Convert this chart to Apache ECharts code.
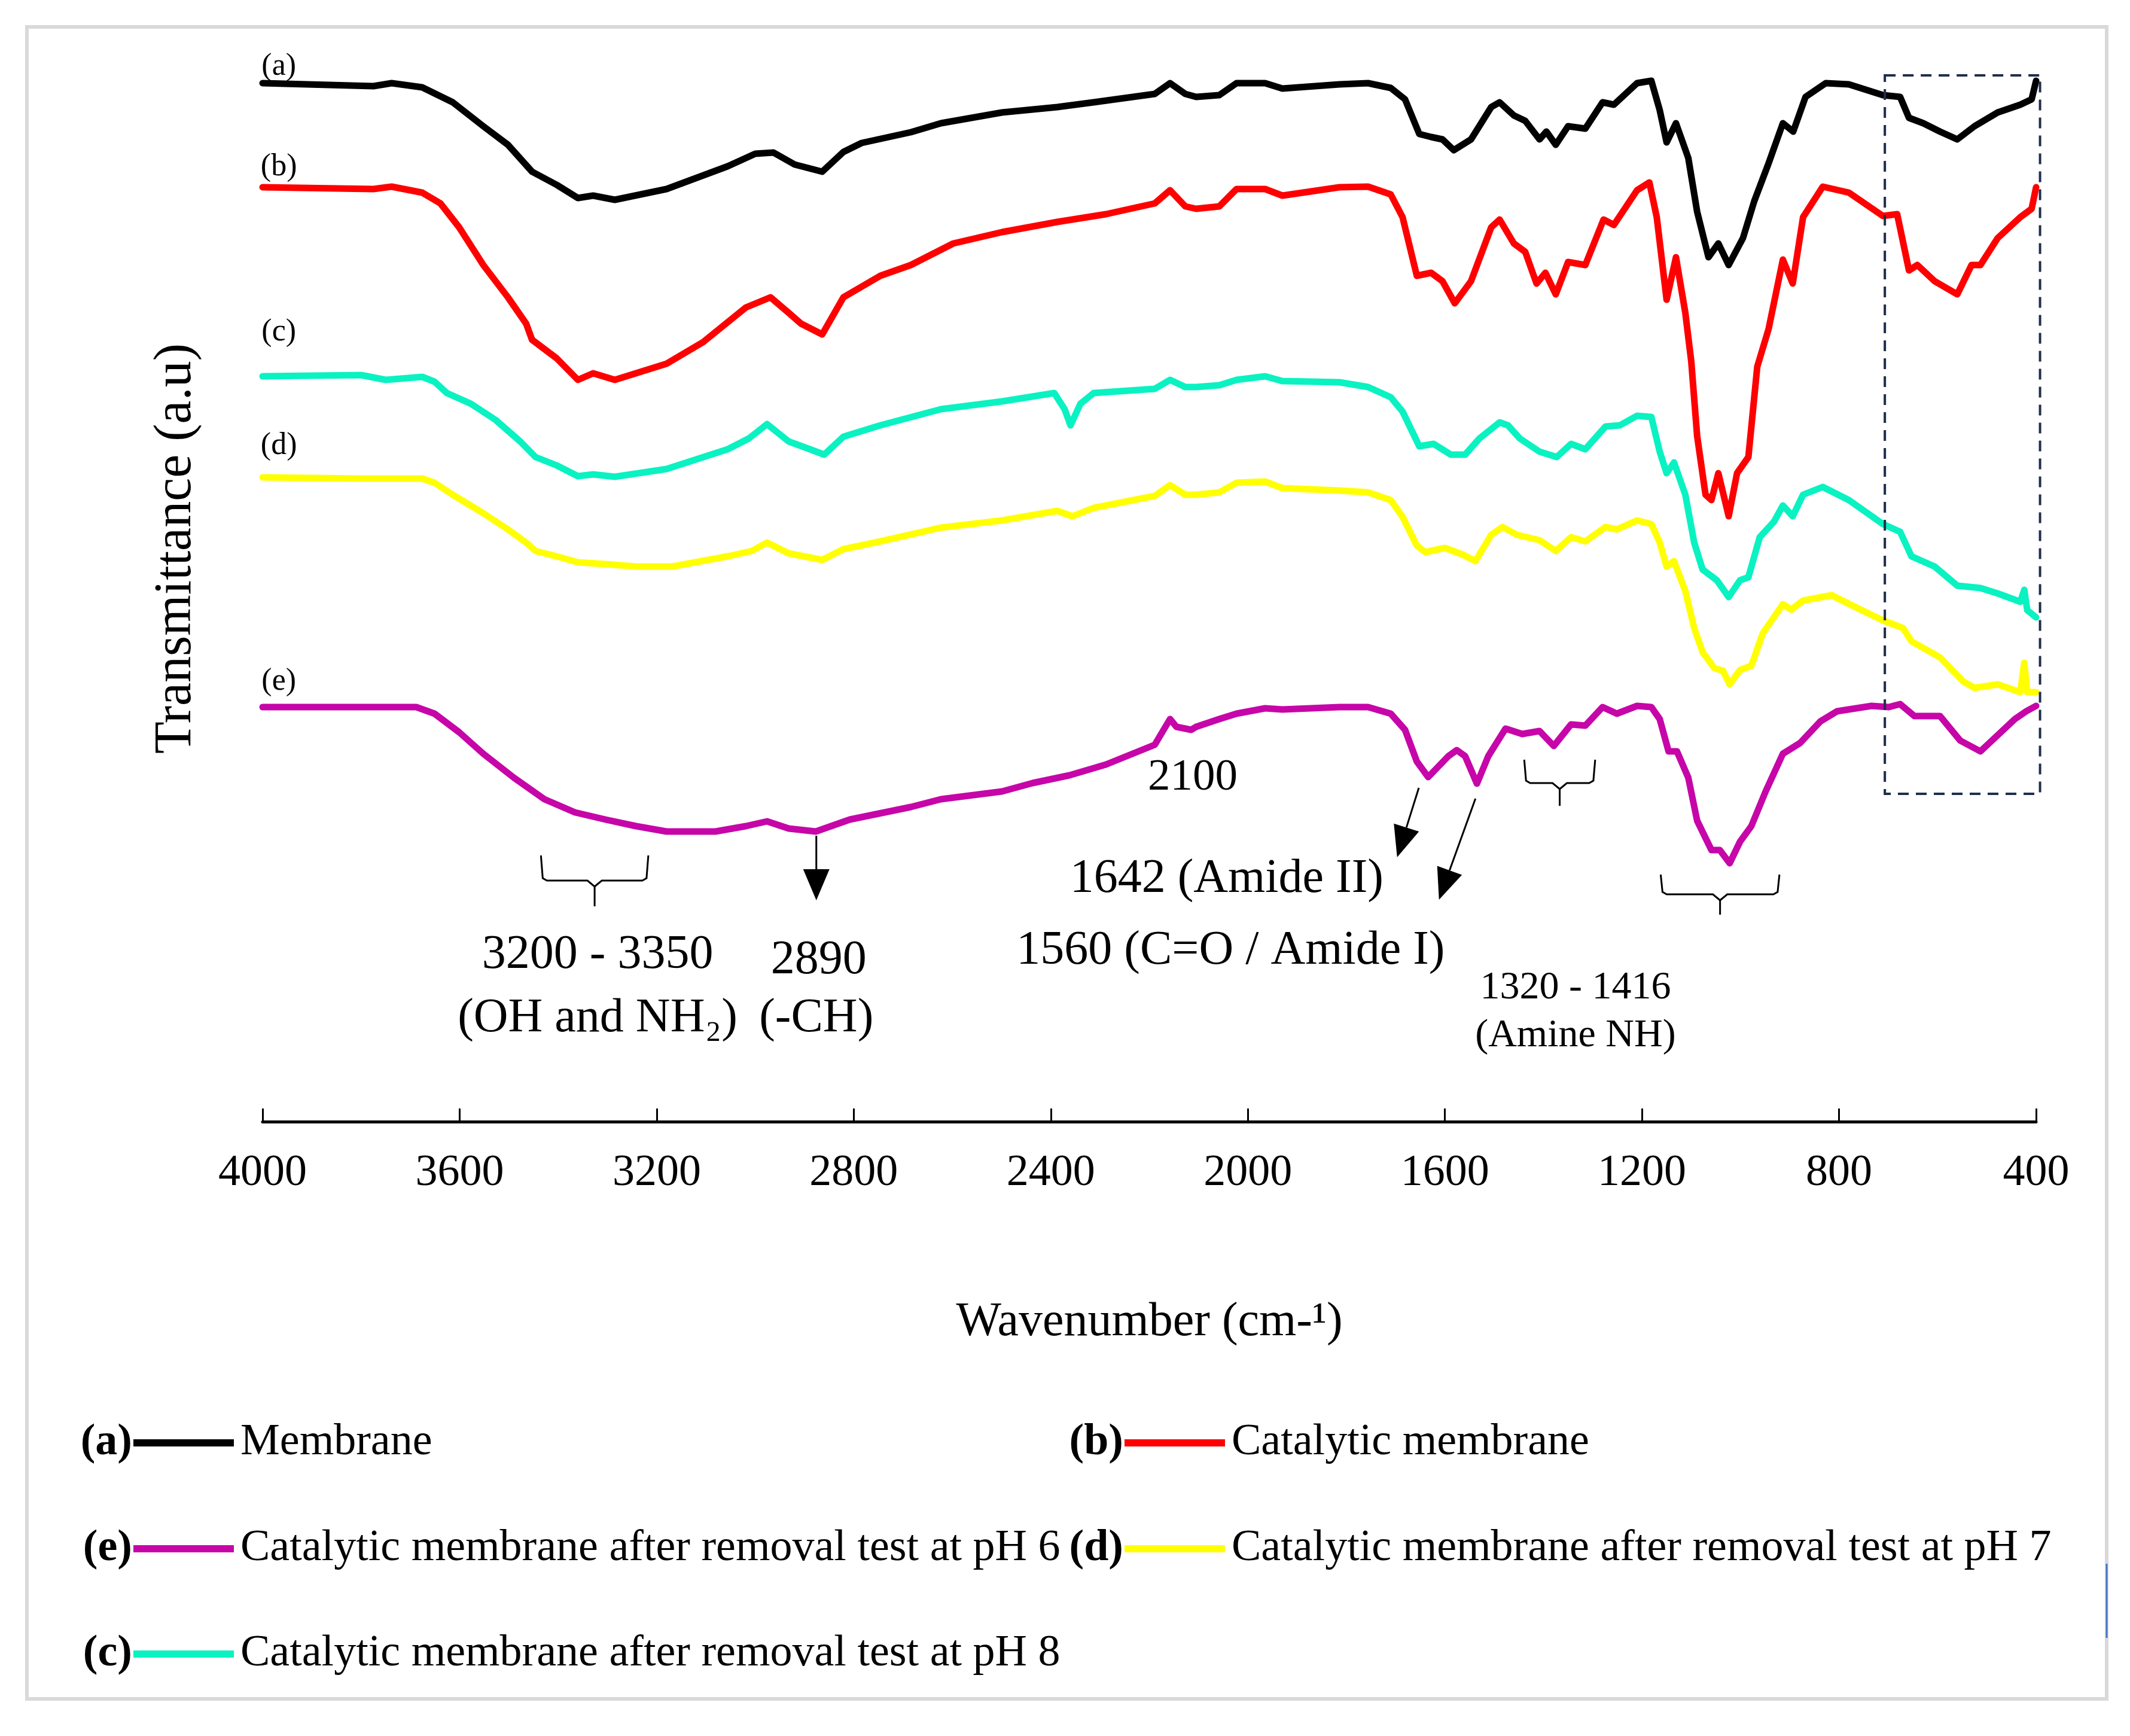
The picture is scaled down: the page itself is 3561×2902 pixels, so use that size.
<!DOCTYPE html>
<html><head><meta charset="utf-8">
<script src="https://cdn.jsdelivr.net/npm/echarts@6/dist/echarts.min.js"></script>
<style>html,body{margin:0;padding:0;background:#fff}#c{width:3561px;height:2902px}</style>
</head><body><div id="c"></div>
<script>
// [wavenumber (cm-1), transmittance (a.u., offset for stacking)]
const membrane = [[4000,1736],[3775,1731],[3738,1736],[3676,1729],[3614,1704],[3552,1664],[3502,1633],[3453,1588],[3403,1566],[3360,1544],[3329,1548],[3285,1541],[3180,1559],[3056,1597],[3000,1618],[2963,1620],[2920,1600],[2864,1588],[2821,1621],[2784,1636],[2684,1654],[2623,1669],[2499,1687],[2387,1696],[2313,1704],[2189,1718],[2158,1736],[2127,1718],[2105,1713],[2058,1716],[2023,1736],[1965,1736],[1930,1727],[1814,1734],[1756,1736],[1710,1728],[1681,1709],[1652,1651],[1628,1646],[1605,1642],[1582,1624],[1547,1642],[1506,1696],[1489,1704],[1460,1682],[1437,1673],[1408,1642],[1394,1655],[1375,1633],[1350,1664],[1315,1660],[1280,1704],[1257,1700],[1210,1736],[1181,1740],[1164,1691],[1150,1637],[1131,1669],[1106,1611],[1088,1521],[1065,1445],[1045,1468],[1024,1432],[995,1477],[972,1539],[943,1602],[914,1669],[893,1655],[868,1713],[827,1736],[780,1734],[711,1716],[676,1713],[658,1678],[629,1669],[595,1655],[560,1642],[525,1664],[478,1687],[432,1700],[409,1709],[400,1740]];
const catalytic = [[4000,1562],[3775,1559],[3738,1563],[3676,1553],[3639,1535],[3601,1495],[3552,1432],[3502,1378],[3465,1334],[3453,1307],[3403,1276],[3360,1240],[3329,1251],[3285,1240],[3180,1267],[3106,1303],[3019,1361],[2969,1378],[2932,1352],[2907,1334],[2864,1316],[2821,1378],[2746,1414],[2684,1432],[2598,1468],[2499,1487],[2387,1504],[2288,1517],[2189,1535],[2158,1557],[2127,1530],[2105,1526],[2058,1530],[2023,1559],[1965,1559],[1930,1548],[1814,1562],[1756,1563],[1710,1550],[1686,1512],[1657,1414],[1628,1419],[1605,1405],[1580,1368],[1547,1405],[1506,1495],[1489,1508],[1460,1468],[1437,1454],[1414,1401],[1396,1419],[1375,1383],[1350,1437],[1315,1432],[1278,1508],[1257,1499],[1210,1557],[1185,1570],[1170,1512],[1150,1374],[1131,1445],[1112,1352],[1100,1271],[1088,1146],[1071,1048],[1059,1039],[1045,1084],[1024,1012],[1007,1084],[984,1111],[966,1262],[943,1325],[914,1441],[894,1401],[873,1512],[833,1563],[780,1553],[711,1514],[682,1517],[658,1423],[641,1432],[606,1405],[560,1383],[531,1432],[513,1432],[478,1477],[432,1512],[409,1526],[400,1562]];
const pH8 = [[4000,1246],[3800,1248],[3750,1240],[3676,1245],[3651,1237],[3626,1218],[3577,1200],[3527,1173],[3477,1137],[3446,1111],[3403,1097],[3360,1079],[3329,1082],[3285,1078],[3180,1091],[3056,1124],[3013,1142],[2976,1166],[2932,1137],[2889,1124],[2860,1115],[2821,1145],[2746,1164],[2623,1191],[2499,1204],[2393,1218],[2372,1191],[2360,1164],[2340,1200],[2313,1218],[2189,1225],[2158,1240],[2127,1228],[2105,1228],[2058,1231],[2023,1240],[1965,1246],[1930,1238],[1814,1236],[1756,1228],[1710,1211],[1686,1187],[1652,1129],[1623,1133],[1588,1115],[1559,1115],[1530,1142],[1489,1169],[1472,1164],[1448,1142],[1408,1120],[1373,1111],[1344,1133],[1315,1124],[1274,1162],[1245,1164],[1210,1180],[1181,1178],[1164,1120],[1150,1084],[1135,1102],[1112,1048],[1094,968],[1077,923],[1048,905],[1024,877],[1001,905],[984,910],[961,977],[932,1003],[914,1030],[894,1012],[873,1048],[833,1061],[780,1039],[711,999],[676,986],[653,945],[606,928],[560,896],[513,892],[478,883],[432,869],[424,889],[418,855],[400,843]];
const pH7 = [[4000,1077],[3800,1075],[3676,1075],[3651,1068],[3614,1048],[3552,1017],[3502,990],[3465,968],[3446,954],[3403,945],[3360,935],[3304,932],[3242,928],[3168,928],[3056,945],[3007,954],[2976,968],[2932,950],[2864,939],[2821,957],[2746,970],[2623,993],[2499,1005],[2387,1021],[2356,1012],[2313,1026],[2189,1046],[2158,1064],[2127,1048],[2105,1048],[2058,1052],[2023,1068],[1965,1070],[1930,1059],[1814,1055],[1756,1052],[1710,1039],[1686,1011],[1657,963],[1640,952],[1600,959],[1564,948],[1538,937],[1506,981],[1483,994],[1454,981],[1408,972],[1375,954],[1344,977],[1315,970],[1274,994],[1251,990],[1210,1005],[1181,999],[1164,968],[1150,928],[1135,937],[1112,887],[1094,825],[1077,785],[1053,758],[1036,754],[1022,731],[1001,755],[978,762],[955,816],[914,865],[897,856],[873,871],[815,880],[769,861],[711,838],[670,825],[653,803],[595,776],[548,736],[525,725],[478,731],[432,718],[424,767],[418,718],[400,718]];
const pH6 = [[4000,693],[3688,693],[3651,682],[3601,651],[3552,615],[3490,575],[3428,539],[3366,517],[3304,505],[3242,494],[3180,485],[3081,485],[3019,494],[2976,502],[2932,490],[2877,485],[2846,494],[2808,505],[2684,526],[2623,539],[2499,552],[2437,566],[2362,579],[2288,597],[2189,630],[2158,673],[2145,660],[2115,655],[2105,660],[2058,673],[2023,682],[1965,691],[1930,689],[1814,693],[1756,693],[1710,682],[1681,655],[1657,602],[1634,576],[1593,611],[1576,621],[1559,611],[1535,565],[1512,611],[1477,657],[1443,648],[1408,653],[1379,628],[1344,664],[1315,662],[1280,693],[1251,682],[1210,695],[1181,693],[1164,673],[1146,619],[1129,619],[1106,575],[1088,503],[1059,454],[1042,454],[1022,432],[1001,468],[978,494],[949,552],[914,615],[879,633],[838,669],[804,686],[734,695],[699,693],[676,698],[647,678],[595,678],[554,637],[513,619],[478,646],[443,673],[420,686],[400,695]];

const seriesNames = ['Membrane','Catalytic membrane','Catalytic membrane after removal test at pH 8','Catalytic membrane after removal test at pH 7','Catalytic membrane after removal test at pH 6'];
const seriesTags = ['(a)','(b)','(c)','(d)','(e)'];
const seriesData = [membrane, catalytic, pH8, pH7, pH6];
const seriesColors = ['#000000','#ff0000','#0af2c2','#ffff00','#c606a8'];
const tagAnchors = [[3967,1764],[3967,1596],[3967,1320],[3967,1130],[3967,736]];

// annotation texts: [text, wavenumber, T, fontSize]
const notes = [
  ['2100', 2112, 575, 75],
  ['1642 (Amide II)', 2043, 405, 80],
  ['1560 (C=O / Amide I)', 2035, 285, 80],
  ['3200 - 3350', 3320, 278, 80],
  ['2890', 2871, 269, 80],
  ['(OH and NH\u2082)', 3320, 172, 80],
  ['(-CH)', 2876, 172, 80],
  ['1320 - 1416', 1335, 223, 66],
  ['(Amine NH)', 1335, 143, 66]
];
// arrows: [fromWn, fromT, tipWn, tipT]
const arrows = [[2876,478,2876,370],[1653,558,1697,442],[1538,540,1612,371]];
// brackets: [leftWn, rightWn, topT, barT, stemT]
const brackets = [[3435,3217,445,403,360],[1439,1295,605,566,528],[1162,921,413,380,346]];
const zoomBox = [707, 548, 392, 1749];

// legend layout: [series index, tag, left(px), rowCenter(px)]
const legendLayout = [[0,'(a)',223,2412],[1,'(b)',1880,2412],[4,'(e)',223,2589],[3,'(d)',1880,2589],[2,'(c)',223,2765]];

const FONT = "'Liberation Serif','Times New Roman',serif";

const option = {
  animation: false,
  backgroundColor: '#ffffff',
  grid: {left: 439, right: 157, top: 58, bottom: 1027},
  xAxis: {
    type: 'value', min: 400, max: 4000, interval: 400, inverse: true,
    name: 'Wavenumber (cm-\u00b9)', nameLocation: 'middle', nameGap: 296,
    nameTextStyle: {fontFamily: FONT, fontSize: 80, color: '#000'},
    axisLine: {show: true, onZero: false, lineStyle: {color: '#000', width: 5}},
    axisTick: {show: true, inside: true, length: 22, lineStyle: {color: '#000', width: 3}},
    axisLabel: {fontFamily: FONT, fontSize: 74, color: '#000', margin: 50, showMinLabel: true, showMaxLabel: true, formatter: v => String(v)},
    splitLine: {show: false}
  },
  yAxis: {type: 'value', min: 0, max: 1817, show: false},
  legend: legendLayout.map(([si, tag, left, cy]) => ({
    data: [{name: seriesNames[si], icon: 'rect'}],
    left: left, top: cy - 40, padding: 0,
    itemWidth: 168, itemHeight: 12, itemGap: 0,
    selectedMode: false,
    textStyle: {fontFamily: FONT, fontSize: 74, lineHeight: 80, color: '#000', padding: [0,0,0,6]}
  })),
  series: seriesData.map((d, i) => ({
    name: seriesNames[i], type: 'line', data: d, showSymbol: false, symbol: 'none',
    color: seriesColors[i],
    lineStyle: {color: seriesColors[i], width: 11, join: 'round', cap: 'round'},
    z: 2 + i
  }))
};

const chart = echarts.init(document.getElementById('c'), null, {renderer: 'canvas', width: 3561, height: 2902});
chart.setOption(option);

const P = (wn, v) => chart.convertToPixel({gridIndex: 0}, [wn, v]);
const g = [];
// outer frame
g.push({type: 'rect', z: 0, shape: {x: 45, y: 45, width: 3477, height: 2795}, style: {fill: 'none', stroke: '#d9d9d9', lineWidth: 6}});
g.push({type: 'line', z: 1, shape: {x1: 3522, y1: 2614, x2: 3522, y2: 2738}, style: {stroke: '#4472c4', lineWidth: 3}});
// curve tags
seriesTags.forEach((t, i) => {
  const p = P(tagAnchors[i][0], tagAnchors[i][1]);
  g.push({type: 'text', x: p[0], y: p[1], style: {text: t, fontFamily: FONT, fontSize: 52, fill: '#000', align: 'center', verticalAlign: 'middle'}});
});
// y title
g.push({type: 'text', x: 295, y: 917, rotation: Math.PI / 2, style: {text: 'Transmittance (a.u)', fontFamily: FONT, fontSize: 88, fill: '#000', align: 'center', verticalAlign: 'middle'}});
// notes
notes.forEach(([t, wn, v, fs]) => {
  const p = P(wn, v);
  g.push({type: 'text', x: p[0], y: p[1], style: {text: t, fontFamily: FONT, fontSize: fs, fill: '#000', align: 'center', verticalAlign: 'middle'}});
});
// arrows
arrows.forEach(([w0, v0, w1, v1]) => {
  const a = P(w0, v0), b = P(w1, v1);
  const dx = b[0] - a[0], dy = b[1] - a[1], len = Math.hypot(dx, dy);
  const ux = dx / len, uy = dy / len, L = 52, W = 22;
  const bx = b[0] - ux * L, by = b[1] - uy * L;
  g.push({type: 'line', shape: {x1: a[0], y1: a[1], x2: bx, y2: by}, style: {stroke: '#000', lineWidth: 3}});
  g.push({type: 'polygon', shape: {points: [[b[0], b[1]], [bx - uy * W, by + ux * W], [bx + uy * W, by - ux * W]]}, style: {fill: '#000'}});
});
// brackets
brackets.forEach(([wl, wr, vt, vb, vs]) => {
  const l = P(wl, vt), r = P(wr, vt), hb = P(wl, vb)[1], st = P(wl, vs)[1];
  const c = (l[0] + r[0]) / 2;
  g.push({type: 'polyline', shape: {points: [[l[0], l[1]], [l[0] + 3, hb - 4], [l[0] + 10, hb], [c - 12, hb], [c, hb + 10], [c + 12, hb], [r[0] - 10, hb], [r[0] - 3, hb - 4], [r[0], r[1]]]}, style: {stroke: '#000', lineWidth: 3, fill: null}});
  g.push({type: 'line', shape: {x1: c, y1: hb + 10, x2: c, y2: st}, style: {stroke: '#000', lineWidth: 3}});
});
// zoom box
{
  const p1 = P(zoomBox[0], zoomBox[3]), p2 = P(zoomBox[2], zoomBox[1]);
  g.push({type: 'rect', z: 10, shape: {x: p1[0], y: p1[1], width: p2[0] - p1[0], height: p2[1] - p1[1]}, style: {fill: 'none', stroke: '#1f2e4d', lineWidth: 4, lineDash: [18, 12]}});
}
// legend tags (bold)
legendLayout.forEach(([si, tag, left, cy]) => {
  g.push({type: 'text', x: left - 2, y: cy, style: {text: tag, fontFamily: FONT, fontSize: 74, fontWeight: 'bold', fill: '#000', align: 'right', verticalAlign: 'middle'}});
});
chart.setOption({graphic: g});
</script></body></html>
